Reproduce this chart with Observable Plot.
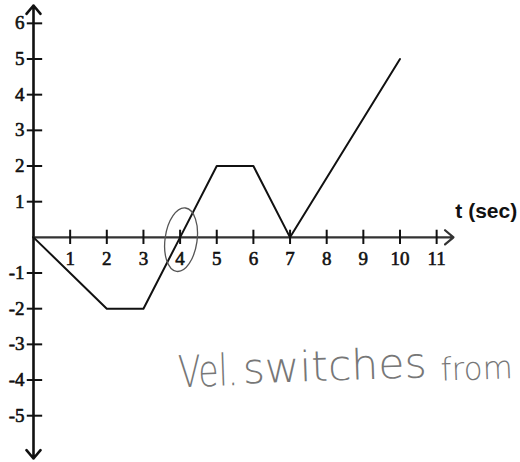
<!DOCTYPE html>
<html>
<head>
<meta charset="utf-8">
<script src="https://cdn.jsdelivr.net/npm/d3@7"></script>
<script src="https://cdn.jsdelivr.net/npm/@observablehq/plot@0.6"></script>
<style>
  html, body { margin: 0; padding: 0; background: #fff; overflow: hidden; }
</style>
</head>
<body>
<div id="chart"></div>
<script>
// Velocity vs. time: piecewise-linear graph
const times = [0, 2, 3, 4, 5, 6, 7, 10];
const velocities = [0, -2, -2, 0, 2, 2, 0, 5];

const xTicks = [1, 2, 3, 4, 5, 6, 7, 8, 9, 10, 11];
const yTicks = [6, 5, 4, 3, 2, 1, -1, -2, -3, -4, -5];

const xLabel = "t (sec)";
// handwritten note, word by word (anchor position in data units, width and size in px)
const noteWords = ["Vel.", "switches", "from"];
const noteT = [3.96, 5.72, 11.12];
const noteV = [-4.2, -4.1, -4.02];
const noteWidths = [60, 184, 72];
const noteSizes = [44, 42, 32];
const circled = {t: 4.04, v: -0.08};

const path = times.map((t, i) => ({t, v: velocities[i]}));
const note = noteWords.map((w, i) => ({w, t: noteT[i], v: noteV[i], len: noteWidths[i], size: noteSizes[i]}));
const serif = "Liberation Serif, Times New Roman, serif";

const plot = Plot.plot({
  width: 520,
  height: 462,
  marginLeft: 33,
  marginRight: 67,
  marginTop: 5,
  marginBottom: 4,
  x: {domain: [0, 11.46], axis: null},
  y: {domain: [-6.2, 6.5], axis: null},
  marks: [
    // axes with arrowheads
    Plot.arrow([{x1: 0, y1: 0, x2: 0, y2: 6.5}, {x1: 0, y1: 0, x2: 0, y2: -6.2}],
      {x1: "x1", y1: "y1", x2: "x2", y2: "y2", stroke: "#111", strokeWidth: 2.6, headLength: 6.3, headAngle: 80}),
    Plot.arrow([{x1: 0, y1: 0, x2: 11.46, y2: 0}],
      {x1: "x1", y1: "y1", x2: "x2", y2: "y2", stroke: "#333", strokeWidth: 2.2, headLength: 7.5, headAngle: 80}),
    // tick marks
    Plot.ruleX(xTicks, {x: d => d, y1: -0.2, y2: 0.2, stroke: "#111", strokeWidth: 2}),
    Plot.ruleY(yTicks, {y: d => d, x1: -0.17, x2: 0.25, stroke: "#111", strokeWidth: 2}),
    // tick labels
    Plot.text(xTicks, {x: d => d, y: 0, text: d => String(d), dy: 22, fontFamily: serif, fontSize: 19,
      fill: "#111", stroke: "#111", strokeWidth: 0.6}),
    Plot.text(yTicks, {x: 0, y: d => d, text: d => String(d), dx: -9, textAnchor: "end", fontFamily: serif, fontSize: 19,
      fill: "#111", stroke: "#111", strokeWidth: 0.6}),
    // axis title
    Plot.text([xLabel], {x: 11.51, y: 0.53, text: d => d, textAnchor: "start", lineAnchor: "bottom",
      fontFamily: "Liberation Sans Narrow, Arial Narrow, Liberation Sans, sans-serif", fontWeight: "bold", fontSize: 21, fill: "#111"}),
    // velocity line
    Plot.line(path, {x: "t", y: "v", stroke: "#111", strokeWidth: 2}),
    // handwritten note
    Plot.text(note, {x: "t", y: "v", text: "w", textAnchor: "start", lineAnchor: "bottom",
      fontFamily: "DejaVu Sans", fontWeight: 200, fontSize: "size", fill: "#777", rotate: -2,
      className: "note"})
  ]
});

// squeeze each handwritten word to its width
d3.select(plot).selectAll(".note text")
  .attr("textLength", (d, i) => note[i].len)
  .attr("lengthAdjust", "spacingAndGlyphs");

// hand-drawn ellipse around t = 4
const sx = plot.scale("x"), sy = plot.scale("y");
d3.select(plot).append("ellipse")
  .attr("cx", sx.apply(circled.t))
  .attr("cy", sy.apply(circled.v))
  .attr("rx", 16)
  .attr("ry", 32)
  .attr("transform", `rotate(8 ${sx.apply(circled.t)} ${sy.apply(circled.v)})`)
  .attr("fill", "none")
  .attr("stroke", "#555")
  .attr("stroke-width", 1.3);

document.getElementById("chart").appendChild(plot);
</script>
</body>
</html>
